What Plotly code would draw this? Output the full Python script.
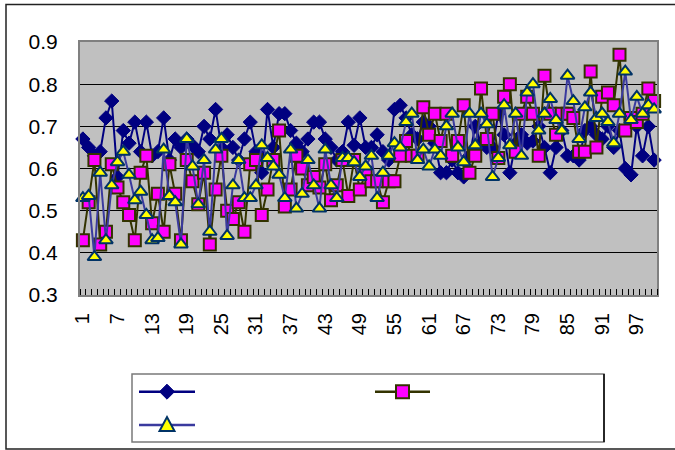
import plotly.graph_objects as go

# Category index 1..100 and the three measured series
categories = list(range(1, 101))

series_a = [0.67, 0.65, 0.63, 0.64, 0.72, 0.76, 0.58, 0.69, 0.66, 0.71,
            0.64, 0.71, 0.63, 0.64, 0.72, 0.62, 0.67, 0.65, 0.67, 0.655,
            0.64, 0.70, 0.67, 0.74, 0.65, 0.68, 0.65, 0.62, 0.67, 0.71,
            0.64, 0.59, 0.74, 0.65, 0.73, 0.73, 0.69, 0.66, 0.64, 0.67,
            0.71, 0.71, 0.67, 0.65, 0.62, 0.64, 0.71, 0.655, 0.72, 0.65,
            0.65, 0.68, 0.64, 0.62, 0.74, 0.75, 0.72, 0.68, 0.67, 0.71,
            0.70, 0.66, 0.59, 0.59, 0.62, 0.59, 0.58, 0.63, 0.70, 0.66,
            0.65, 0.65, 0.73, 0.68, 0.59, 0.66, 0.68, 0.66, 0.665, 0.70,
            0.65, 0.59, 0.65, 0.69, 0.63, 0.63, 0.62, 0.69, 0.70, 0.68,
            0.67, 0.70, 0.65, 0.69, 0.60, 0.585, 0.70, 0.63, 0.70, 0.62]

series_b = [0.43, 0.52, 0.62, 0.42, 0.45, 0.61, 0.555, 0.52, 0.49, 0.43,
            0.59, 0.63, 0.47, 0.54, 0.45, 0.61, 0.54, 0.43, 0.62, 0.57,
            0.515, 0.59, 0.42, 0.55, 0.63, 0.50, 0.48, 0.52, 0.45, 0.61,
            0.62, 0.49, 0.55, 0.62, 0.69, 0.51, 0.55, 0.63, 0.60, 0.56,
            0.58, 0.555, 0.61, 0.525, 0.56, 0.62, 0.535, 0.62, 0.55, 0.59,
            0.57, 0.57, 0.52, 0.57, 0.57, 0.63, 0.665, 0.63, 0.63, 0.745,
            0.68, 0.73, 0.665, 0.73, 0.63, 0.665, 0.75, 0.59, 0.63, 0.79,
            0.67, 0.73, 0.625, 0.77, 0.80, 0.64, 0.73, 0.77, 0.73, 0.63,
            0.82, 0.73, 0.68, 0.73, 0.73, 0.72, 0.64, 0.64, 0.83, 0.65,
            0.77, 0.78, 0.75, 0.87, 0.69, 0.72, 0.71, 0.73, 0.79, 0.76]

series_c = [0.53, 0.535, 0.39, 0.59, 0.43, 0.56, 0.615, 0.64, 0.585, 0.525,
            0.545, 0.49, 0.43, 0.435, 0.645, 0.535, 0.52, 0.42, 0.67, 0.605,
            0.515, 0.62, 0.45, 0.645, 0.67, 0.44, 0.56, 0.62, 0.53, 0.53,
            0.56, 0.655, 0.625, 0.605, 0.585, 0.53, 0.645, 0.505, 0.54, 0.62,
            0.56, 0.505, 0.645, 0.56, 0.53, 0.625, 0.625, 0.615, 0.58, 0.605,
            0.63, 0.53, 0.59, 0.63, 0.66, 0.65, 0.71, 0.73, 0.62, 0.645,
            0.605, 0.645, 0.63, 0.70, 0.73, 0.65, 0.615, 0.73, 0.655, 0.73,
            0.705, 0.58, 0.625, 0.75, 0.655, 0.73, 0.63, 0.78, 0.80, 0.69,
            0.73, 0.765, 0.715, 0.69, 0.82, 0.76, 0.67, 0.745, 0.78, 0.72,
            0.73, 0.71, 0.66, 0.73, 0.83, 0.715, 0.77, 0.73, 0.75, 0.74]

x_tick_values = list(range(1, 101, 6))
x_tick_labels = [str(v) for v in x_tick_values]
y_tick_values = [0.3, 0.4, 0.5, 0.6, 0.7, 0.8, 0.9]

W, H = 675, 450
ML, MR, MT, MB = 80, 18, 42, 155
PW, PH = W - ML - MR, H - MT - MB

FONT = "Liberation Sans, Arial, sans-serif"

styles = [
    dict(line=dict(color="#000080", width=2),
         marker=dict(symbol="diamond", size=11, color="#000080",
                     line=dict(color="#000080", width=1))),
    dict(line=dict(color="#333300", width=2),
         marker=dict(symbol="square", size=12, color="#FF00FF",
                     line=dict(color="#333300", width=2))),
    dict(line=dict(color="#3A3A9E", width=2),
         marker=dict(symbol="triangle-up", size=12, color="#FFFF00",
                     line=dict(color="#003366", width=2))),
]

fig = go.Figure()
for vals, st in zip([series_a, series_b, series_c], styles):
    fig.add_trace(go.Scatter(x=categories, y=vals, mode="lines+markers",
                             line=st["line"], marker=st["marker"],
                             showlegend=False, cliponaxis=False))


def px_x(p):
    return (p - ML) / PW


def px_y(p):
    return (H - MB - p) / PH


def path_from_px(points):
    parts = []
    for i, (a, b) in enumerate(points):
        parts.append(("M" if i == 0 else "L") + f"{px_x(a):.5f},{px_y(b):.5f}")
    return " ".join(parts) + " Z"


shapes = []
# outer chart frame
shapes.append(dict(type="rect", xref="paper", yref="paper",
                   x0=px_x(6), x1=px_x(690), y0=px_y(449), y1=px_y(4.5),
                   line=dict(color="#222222", width=1.5), layer="below"))
# legend frame
shapes.append(dict(type="rect", xref="paper", yref="paper",
                   x0=px_x(132), x1=px_x(604), y0=px_y(442), y1=px_y(374),
                   line=dict(color="#7a7a7a", width=1.5)))
shapes.append(dict(type="line", xref="paper", yref="paper",
                   x0=px_x(604), x1=px_x(604), y0=px_y(442), y1=px_y(374),
                   line=dict(color="#000000", width=1.5)))

# legend keys: (line start, line end, row y)
legend_keys = [(139, 195, 391.7), (375, 430, 391.7), (139, 195, 425)]
for (a, b, yy), st in zip(legend_keys, styles):
    shapes.append(dict(type="line", xref="paper", yref="paper",
                       x0=px_x(a), x1=px_x(b), y0=px_y(yy), y1=px_y(yy),
                       line=dict(color=st["line"]["color"], width=2.5)))
    cx = (a + b) / 2
    sym = st["marker"]["symbol"]
    if sym == "diamond":
        pts = [(cx - 7.5, yy), (cx, yy - 7.5), (cx + 7.5, yy), (cx, yy + 7.5)]
    elif sym == "square":
        pts = [(cx - 6.5, yy - 6.5), (cx + 6.5, yy - 6.5),
               (cx + 6.5, yy + 6.5), (cx - 6.5, yy + 6.5)]
    else:
        pts = [(cx - 7.5, yy + 6), (cx + 7.5, yy + 6), (cx, yy - 8)]
    shapes.append(dict(type="path", xref="paper", yref="paper",
                       path=path_from_px(pts),
                       fillcolor=st["marker"]["color"],
                       line=dict(color=st["marker"]["line"]["color"],
                                 width=st["marker"]["line"]["width"])))

fig.update_layout(
    width=W, height=H,
    margin=dict(l=ML, r=MR, t=MT, b=MB, pad=0),
    paper_bgcolor="#FFFFFF",
    plot_bgcolor="#C0C0C0",
    font=dict(family=FONT, size=21, color="#000000"),
    shapes=shapes,
    showlegend=False,
    xaxis=dict(range=[0.5, 100.5], tickmode="array",
               tickvals=x_tick_values, ticktext=x_tick_labels,
               tickangle=-90, ticks="", showgrid=False, zeroline=False,
               showline=True, mirror=True, linecolor="#808080", linewidth=2,
               tickfont=dict(size=20), ticklabelstandoff=8,
               minor=dict(ticks="inside", tick0=0.5, dtick=1, ticklen=6,
                          tickcolor="#000000", tickwidth=1, showgrid=False)),
    yaxis=dict(range=[0.3, 0.9], tickmode="array", tickvals=y_tick_values,
               ticktext=[f"{v:.1f}" for v in y_tick_values],
               ticks="", showgrid=True, gridcolor="#000000", gridwidth=1,
               zeroline=False, showline=True, mirror=True,
               linecolor="#808080", linewidth=2, ticklabelstandoff=16),
)

fig.write_html("out.html")
